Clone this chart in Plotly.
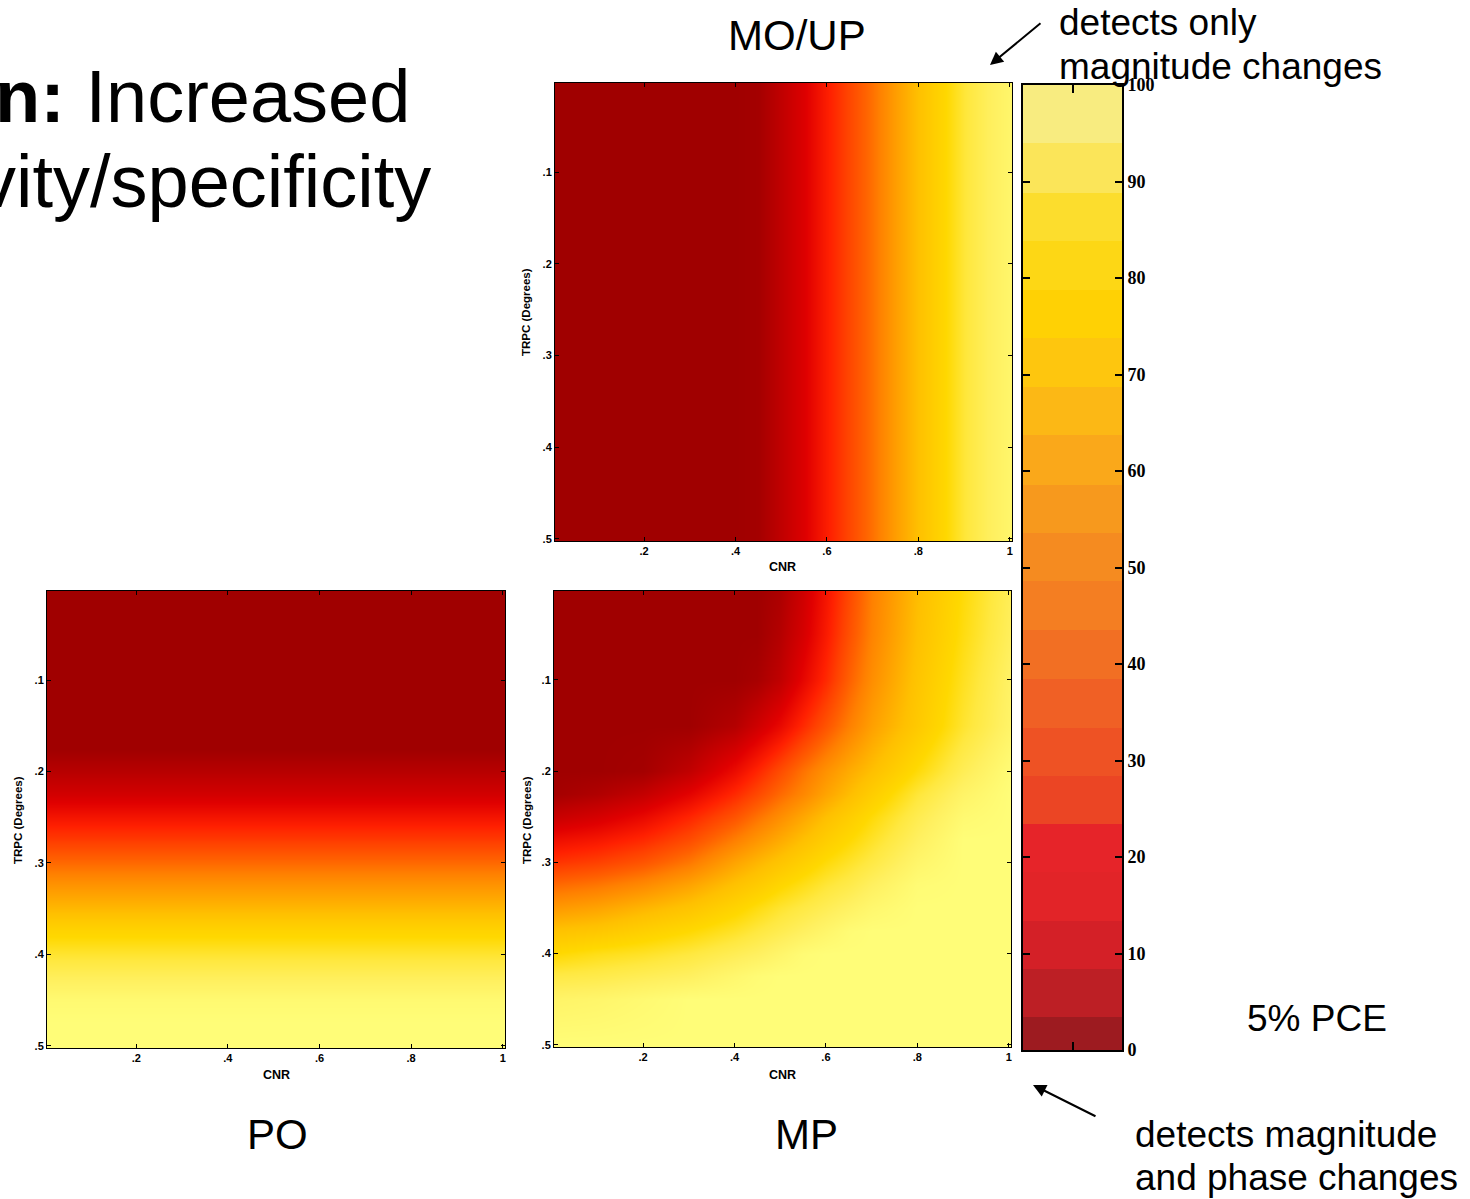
import plotly.graph_objects as go

W, H = 1470, 1199

# ---- detection rate (%) read on a regular grid ----------------------------
# MO/UP: rate depends on CNR only
cnr_mo = [0.00, 0.05, 0.10, 0.15, 0.20, 0.25, 0.30, 0.35, 0.40, 0.45, 0.50,
          0.55, 0.60, 0.65, 0.70, 0.75, 0.80, 0.85, 0.90, 0.95, 1.00]
rate_mo = [0, 0, 0, 0, 0, 0, 0, 0, 0, 1, 8,
           16, 27, 37, 47, 58, 68, 77, 86, 92, 96]
trpc_mo = [0.0, 0.5]

# PO: rate depends on TRPC only
trpc_po = [0.000, 0.025, 0.050, 0.075, 0.100, 0.125, 0.150, 0.175, 0.200, 0.225, 0.250,
           0.275, 0.300, 0.325, 0.350, 0.375, 0.400, 0.425, 0.450, 0.475, 0.500]
rate_po = [0, 0, 0, 0, 0, 0, 0, 0, 6, 13, 24,
           34, 45, 56, 66, 77, 85, 92, 98, 100, 100]
cnr_po = [0.0, 1.0]

# MP: rate on a CNR x TRPC grid (rows = TRPC)
cnr_mp = [0.0, 0.1, 0.2, 0.3, 0.4, 0.45, 0.5, 0.55, 0.6, 0.65, 0.7, 0.8, 0.9, 1.0]
trpc_mp = [0.000, 0.050, 0.100, 0.150, 0.200, 0.225, 0.250, 0.275,
           0.300, 0.325, 0.350, 0.375, 0.400, 0.425, 0.450, 0.500]
rate_mp = [
    [0, 0, 0, 0, 0, 0, 3, 12, 24, 37, 50, 67, 80, 91],
    [0, 0, 0, 0, 0, 0, 5, 14, 26, 39, 51, 68, 81, 92],
    [0, 0, 0, 0, 0, 2, 8, 19, 30, 43, 54, 70, 83, 94],
    [0, 0, 0, 0, 5, 12, 20, 30, 40, 50, 59, 72, 85, 95],
    [0, 0, 1, 8, 21, 29, 38, 47, 55, 62, 68, 80, 91, 99],
    [1, 4, 9, 18, 30, 37, 45, 52, 60, 67, 74, 86, 95, 100],
    [10, 14, 20, 29, 40, 47, 54, 61, 68, 74, 80, 90, 98, 100],
    [22, 25, 30, 38, 50, 56, 62, 68, 74, 79, 84, 93, 100, 100],
    [32, 35, 40, 48, 60, 65, 70, 75, 80, 84, 88, 96, 100, 100],
    [45, 48, 53, 60, 69, 73, 78, 82, 86, 89, 93, 99, 100, 100],
    [57, 60, 65, 70, 77, 81, 85, 88, 91, 94, 97, 100, 100, 100],
    [69, 71, 75, 79, 84, 87, 90, 93, 96, 99, 100, 100, 100, 100],
    [79, 82, 84, 87, 91, 93, 96, 99, 100, 100, 100, 100, 100, 100],
    [88, 89, 91, 93, 97, 99, 100, 100, 100, 100, 100, 100, 100, 100],
    [95, 96, 98, 100, 100, 100, 100, 100, 100, 100, 100, 100, 100, 100],
    [100, 100, 100, 100, 100, 100, 100, 100, 100, 100, 100, 100, 100, 100],
]

# axis ticks
cnr_ticks = [0.2, 0.4, 0.6, 0.8, 1.0]
cnr_labels = [".2", ".4", ".6", ".8", "1"]
trpc_ticks = [0.1, 0.2, 0.3, 0.4, 0.5]
trpc_labels = [".1", ".2", ".3", ".4", ".5"]

# colour bar: band edges and tick values
bar_edges = [0, 3.4, 8.4, 13.4, 18.4, 23.4, 28.4, 33.4, 38.4, 43.5, 48.6,
             53.6, 58.5, 63.7, 68.7, 73.8, 78.8, 83.8, 88.8, 94.0, 100]
bar_ticks = [0, 10, 20, 30, 40, 50, 60, 70, 80, 90, 100]

# ---- styling -------------------------------------------------------------
heat_levels = [0, 8, 17, 28, 35, 43, 50, 59, 68, 79, 87, 93, 100]
heat_colors = ["#A00000", "#C00000", "#E00000", "#FF2000", "#FF4000", "#FF6000",
               "#FF8000", "#FFA000", "#FFC000", "#FFD800", "#FFE840", "#FFF060", "#FFFD78"]
heat_scale = [[lv / 100, c] for lv, c in zip(heat_levels, heat_colors)]

bar_colors = ["#9D1B20", "#BD1F25", "#D42027", "#E22428", "#E62429", "#EB4524",
              "#EE5224", "#F06025", "#F26F23", "#F47E22", "#F58B20", "#F7991D",
              "#FAA81A", "#FCB815", "#FEC60E", "#FFD104", "#FDD715", "#FCDD2D",
              "#FBE559", "#F8EC80"]
bar_scale = [[i / (len(bar_colors) - 1), c] for i, c in enumerate(bar_colors)]

SANS = "Arial, Liberation Sans, sans-serif"
SERIF = "Times New Roman, Liberation Serif, serif"


def px_x(p):
    return p / W


def px_y(p):
    return 1 - p / H


fig = go.Figure()

fig.add_trace(go.Heatmap(x=cnr_mo, y=trpc_mo, z=[rate_mo for _ in trpc_mo],
                         colorscale=heat_scale, zmin=0, zmax=100, zsmooth="best",
                         showscale=False, xaxis="x", yaxis="y"))
fig.add_trace(go.Heatmap(x=cnr_po, y=trpc_po, z=[[r for _ in cnr_po] for r in rate_po],
                         colorscale=heat_scale, zmin=0, zmax=100, zsmooth="best",
                         showscale=False, xaxis="x2", yaxis="y2"))
fig.add_trace(go.Heatmap(x=cnr_mp, y=trpc_mp, z=rate_mp,
                         colorscale=heat_scale, zmin=0, zmax=100, zsmooth="best",
                         showscale=False, xaxis="x3", yaxis="y3"))
fig.add_trace(go.Heatmap(x=[0, 1], y=bar_edges, z=[[i] for i in range(len(bar_colors))],
                         colorscale=bar_scale, zmin=0, zmax=len(bar_colors) - 1,
                         showscale=False, xaxis="x4", yaxis="y4", hoverinfo="skip"))

tick_font = dict(family=SANS, size=11, color="black", weight="bold")


def x_heat(dom, anchor):
    return dict(domain=[px_x(dom[0]), px_x(dom[1])], anchor=anchor, automargin=False,
                range=[0.005, 1.005], tickvals=cnr_ticks, ticktext=cnr_labels,
                ticks="inside", ticklen=4, tickcolor="black", tickwidth=1,
                showline=True, linecolor="black", linewidth=1, mirror="ticks",
                showgrid=False, zeroline=False, tickfont=tick_font)


def y_heat(dom, anchor):
    return dict(domain=[px_y(dom[1]), px_y(dom[0])], anchor=anchor, automargin=False,
                range=[0.5025, 0.0025], tickvals=trpc_ticks, ticktext=trpc_labels,
                ticks="inside", ticklen=4, tickcolor="black", tickwidth=1,
                showline=True, linecolor="black", linewidth=1, mirror="ticks",
                showgrid=False, zeroline=False, tickfont=tick_font)


fig.update_layout(
    width=W, height=H, margin=dict(l=0, r=0, t=0, b=0, autoexpand=False),
    paper_bgcolor="white", plot_bgcolor="white", showlegend=False,
    xaxis=x_heat((555, 1012), "y"), yaxis=y_heat((83, 541), "x"),
    xaxis2=x_heat((47, 505), "y2"), yaxis2=y_heat((591, 1048), "x2"),
    xaxis3=x_heat((554, 1011), "y3"), yaxis3=y_heat((591, 1047), "x3"),
    xaxis4=dict(domain=[px_x(1023), px_x(1122)], anchor="y4", range=[0, 1],
                automargin=False,
                tickvals=[0.5], showticklabels=False, ticks="inside", ticklen=8,
                tickwidth=2, tickcolor="black", showline=True, linecolor="black",
                linewidth=2, mirror="ticks", showgrid=False, zeroline=False),
    yaxis4=dict(domain=[px_y(1050), px_y(85)], anchor="x4", range=[0, 100],
                automargin=False,
                tickvals=bar_ticks, side="right", ticks="inside", ticklen=7,
                tickwidth=2, tickcolor="black", showline=True, linecolor="black",
                linewidth=2, mirror="ticks", showgrid=False, zeroline=False,
                tickfont=dict(family=SERIF, size=18, color="black", weight="bold")),
)

ann = []


def text(s, x, y, size, xanchor="center", textangle=0, family=SANS):
    ann.append(dict(text=s, x=px_x(x), y=px_y(y), xref="paper", yref="paper",
                    xanchor=xanchor, yanchor="middle", showarrow=False,
                    textangle=textangle, font=dict(family=family, size=size, color="black")))


# axis titles
for cx, cy in [(783, 567), (276, 1075), (783, 1075)]:
    text("<b>CNR</b>", cx, cy, 12.5)
for cx, cy in [(526, 312), (18, 820), (527, 820)]:
    text("<b>TRPC (Degrees)</b>", cx, cy, 11.5, textangle=-90)

# heading
text("<b>n:</b> Increased", 412, 96, 74, xanchor="right")
text("vity/specificity", 433, 181, 74, xanchor="right")

# panel names
text("MO/UP", 797, 36, 42)
text("PO", 277, 1134, 42)
text("MP", 806, 1134, 42)
text("5% PCE", 1317, 1018, 37)

# notes
text("detects only", 1057, 22, 37, xanchor="left")
text("magnitude changes", 1057, 66, 37, xanchor="left")
text("detects magnitude", 1133, 1134, 37, xanchor="left")
text("and phase changes", 1133, 1177, 37, xanchor="left")

# arrows
for hx, hy, tx, ty in [(990, 65, 1042, 22), (1033, 1085, 1097, 1117)]:
    ann.append(dict(text="", x=px_x(hx), y=px_y(hy), xref="paper", yref="paper",
                    ax=tx - hx, ay=ty - hy, axref="pixel", ayref="pixel",
                    showarrow=True, arrowhead=2, arrowsize=1.3, arrowwidth=2,
                    arrowcolor="black", standoff=0))

fig.update_layout(annotations=ann)

fig.write_html("out.html")
